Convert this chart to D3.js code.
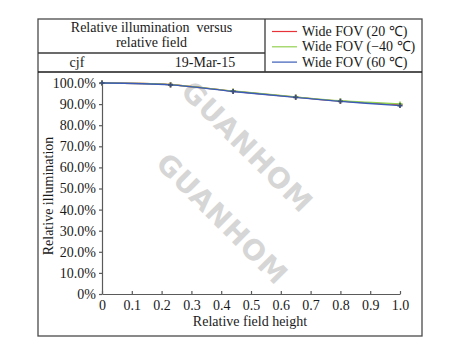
<!DOCTYPE html>
<html>
<head>
<meta charset="utf-8">
<script src="https://cdn.jsdelivr.net/npm/d3@7/dist/d3.min.js"></script>
<style>
  html, body { margin: 0; padding: 0; background: #fff; }
  svg { display: block; }
  text { font-family: "Liberation Serif", "Times New Roman", serif; fill: #1a1a1a; white-space: pre; }
</style>
</head>
<body>
<svg id="chart" width="467" height="345"></svg>
<script>
// Relative field positions sampled by the lens model
const fields = [0, 0.23, 0.44, 0.65, 0.8, 1.0];

// Relative illumination (%) per temperature
const ri20 = [100, 99.2, 96.1, 93.3, 91.4, 89.7];
const riMinus40 = [100, 99.2, 96.2, 93.4, 91.6, 90.1];
const ri60 = [100, 99.1, 96.0, 93.2, 91.3, 89.3];

const seriesNames = ["Wide FOV (20 \u2103)", "Wide FOV (\u221240 \u2103)", "Wide FOV (60 \u2103)"];
const seriesColors = ["#e8323a", "#92d050", "#3a5cb8"];

const xTicks = [0, 0.1, 0.2, 0.3, 0.4, 0.5, 0.6, 0.7, 0.8, 0.9, 1.0];
const yTicks = [0, 10, 20, 30, 40, 50, 60, 70, 80, 90, 100];

const titleLines = ["Relative illumination  versus", "relative field"];
const author = "cjf";
const dateLabel = "19-Mar-15";
const xTitle = "Relative field height";
const yTitle = "Relative illumination";
const watermark = "GUANHOM";

const svg = d3.select("#chart");

// Frame and header table
const frame = { left: 38, top: 19, right: 422, bottom: 336 };
const headerSplit = 265, row1 = 53, row2 = 72;

svg.append("rect")
  .attr("x", frame.left).attr("y", frame.top)
  .attr("width", frame.right - frame.left).attr("height", frame.bottom - frame.top)
  .attr("fill", "none").attr("stroke", "#4a4a4a").attr("stroke-width", 1.3);

const hdr = svg.append("g").attr("stroke", "#3a3a3a").attr("stroke-width", 1.3);
hdr.append("line").attr("x1", frame.left).attr("x2", headerSplit).attr("y1", row1).attr("y2", row1);
hdr.append("line").attr("x1", frame.left).attr("x2", frame.right).attr("y1", row2).attr("y2", row2)
  .attr("stroke", "#1a1a1a").attr("stroke-width", 1.6);
hdr.append("line").attr("x1", headerSplit).attr("x2", headerSplit).attr("y1", frame.top).attr("y2", row2);

const titleCx = (frame.left + headerSplit) / 2;
titleLines.forEach((t, i) => {
  svg.append("text").attr("x", titleCx).attr("y", 32 + i * 15)
    .attr("text-anchor", "middle").attr("font-size", 14).text(t);
});
svg.append("text").attr("x", 77).attr("y", 67).attr("text-anchor", "middle").attr("font-size", 14).text(author);
svg.append("text").attr("x", 205).attr("y", 67).attr("text-anchor", "middle").attr("font-size", 14).text(dateLabel);

// Legend
const legend = svg.append("g");
seriesNames.forEach((name, i) => {
  const ly = 31.5 + i * 15.3;
  legend.append("line").attr("x1", 272).attr("x2", 297).attr("y1", ly).attr("y2", ly)
    .attr("stroke", seriesColors[i]).attr("stroke-width", 1.2);
  legend.append("text").attr("x", 302).attr("y", ly + 4.5).attr("font-size", 14).text(name);
});

// Scales
const x = d3.scaleLinear().domain([0, 1]).range([102, 400]);
const y = d3.scaleLinear().domain([0, 100]).range([294, 83]);

// Watermark
[[247, 147], [222, 219]].forEach(([cx, cy]) => {
  svg.append("text")
    .attr("transform", `translate(${cx},${cy}) rotate(45)`)
    .attr("text-anchor", "middle").attr("dominant-baseline", "central")
    .style("font-family", "'DejaVu Sans', sans-serif")
    .attr("font-size", 28).attr("font-weight", "bold")
    .attr("letter-spacing", 1)
    .style("fill", "#d6d6d6")
    .text(watermark);
});

// Axes
const fmtY = d => d === 0 ? "0%" : d3.format(".1f")(d) + "%";
const fmtX = d => d === 0 ? "0" : d3.format(".1f")(d);

const yAxis = svg.append("g").attr("transform", `translate(${x(0)},0)`)
  .call(d3.axisLeft(y).tickValues(yTicks).tickFormat(fmtY).tickSize(3).tickSizeOuter(0).tickPadding(3));
const xAxis = svg.append("g").attr("transform", `translate(0,${y(0)})`)
  .call(d3.axisBottom(x).tickValues(xTicks).tickFormat(fmtX).tickSizeInner(-3).tickSizeOuter(0).tickPadding(6));

[xAxis, yAxis].forEach(a => {
  a.selectAll("path.domain, line").attr("stroke", "#5a5a5a").attr("stroke-width", 1.2);
  a.selectAll("text").attr("font-size", 14).style("font-family", "'Liberation Serif', serif").attr("fill", "#1a1a1a");
});
xAxis.selectAll("text").attr("dy", "0.72em");

svg.append("text").attr("x", 250).attr("y", 326).attr("text-anchor", "middle").attr("font-size", 14).text(xTitle);
svg.append("text").attr("transform", "translate(53,196) rotate(-90)")
  .attr("text-anchor", "middle").attr("font-size", 14).text(yTitle);

// Series curves and markers
const allSeries = [ri20, riMinus40, ri60];
const line = d3.line().x((d, i) => x(fields[i])).y(d => y(d)).curve(d3.curveCatmullRom.alpha(0.5));
allSeries.forEach((vals, s) => {
  svg.append("path").datum(vals).attr("d", line)
    .attr("fill", "none").attr("stroke", seriesColors[s]).attr("stroke-width", 1.4);
  svg.append("g").selectAll("path").data(vals).join("path")
    .attr("transform", (d, i) => `translate(${x(fields[i])},${y(d)})`)
    .attr("d", d3.symbol(d3.symbolCross, 14))
    .attr("fill", s === 2 ? "#3b4f7f" : seriesColors[s]);
});
</script>
</body>
</html>
